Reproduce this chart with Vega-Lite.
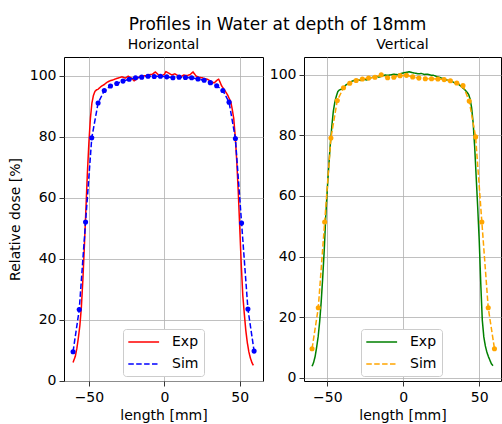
{
  "$schema": "https://vega.github.io/schema/vega-lite/v6.json",
  "padding": {"left": 7, "top": 15, "right": 0, "bottom": 0},
  "title": {"text": "Profiles in Water at depth of 18mm", "fontSize": 17, "fontWeight": "normal", "font": "DejaVu Sans", "color": "black", "anchor": "middle", "dx": 23, "offset": 4},
  "config": {
    "font": "DejaVu Sans",
    "view": {"stroke": "black", "strokeWidth": 1},
    "axis": {"grid": true, "gridColor": "#b0b0b0", "gridWidth": 0.8, "domain": false, "tickColor": "black", "tickSize": 5, "tickWidth": 0.8, "labelFontSize": 14, "labelColor": "black", "labelPadding": 3, "titleFontSize": 14, "titleFontWeight": "normal", "titleColor": "black", "titlePadding": 4},
    "axisX": {"labelPadding": 4},
    "title": {"fontSize": 14, "fontWeight": "normal", "color": "black", "offset": 5},
    "legend": {"fillColor": "white", "strokeColor": "#cccccc", "cornerRadius": 3, "padding": 5, "labelFontSize": 14, "labelColor": "black", "symbolType": "M-1.1,0H3.3", "symbolSize": 196, "symbolStrokeWidth": 1.5, "labelOffset": 28, "rowPadding": 7}
  },
  "bounds": "flush",
  "spacing": 41,
  "datasets": {
    "h": [
      {"s":"Exp","x":-60.5,"y":6.0},{"s":"Exp","x":-59,"y":8.0},{"s":"Exp","x":-58,"y":10.5},{"s":"Exp","x":-57,"y":14},{"s":"Exp","x":-56,"y":18},{"s":"Exp","x":-55,"y":24},{"s":"Exp","x":-54,"y":33},{"s":"Exp","x":-53,"y":44},{"s":"Exp","x":-52,"y":56},{"s":"Exp","x":-51,"y":68},{"s":"Exp","x":-50,"y":78},{"s":"Exp","x":-49,"y":86},{"s":"Exp","x":-48,"y":91},{"s":"Exp","x":-47,"y":93.5},{"s":"Exp","x":-46,"y":94.8},{"s":"Exp","x":-45,"y":95.3},{"s":"Exp","x":-44,"y":95.5},{"s":"Exp","x":-42,"y":96.4},{"s":"Exp","x":-40,"y":97.0},{"s":"Exp","x":-38,"y":97.8},{"s":"Exp","x":-36,"y":98.3},{"s":"Exp","x":-34,"y":98.6},{"s":"Exp","x":-32,"y":99.0},{"s":"Exp","x":-30,"y":99.3},{"s":"Exp","x":-28,"y":99.6},{"s":"Exp","x":-26,"y":99.2},{"s":"Exp","x":-24,"y":99.8},{"s":"Exp","x":-22,"y":99.3},{"s":"Exp","x":-20,"y":98.3},{"s":"Exp","x":-18,"y":99.0},{"s":"Exp","x":-16,"y":99.8},{"s":"Exp","x":-14,"y":99.9},{"s":"Exp","x":-12,"y":100.0},{"s":"Exp","x":-10,"y":100.3},{"s":"Exp","x":-8,"y":100.4},{"s":"Exp","x":-6,"y":101.2},{"s":"Exp","x":-4,"y":100.3},{"s":"Exp","x":-2,"y":99.9},{"s":"Exp","x":0,"y":100.4},{"s":"Exp","x":1,"y":101.3},{"s":"Exp","x":3,"y":100.8},{"s":"Exp","x":5,"y":100.2},{"s":"Exp","x":7,"y":100.6},{"s":"Exp","x":9,"y":100.0},{"s":"Exp","x":11,"y":99.7},{"s":"Exp","x":13,"y":100.2},{"s":"Exp","x":15,"y":100.0},{"s":"Exp","x":17,"y":100.3},{"s":"Exp","x":19,"y":101.2},{"s":"Exp","x":21,"y":99.9},{"s":"Exp","x":23,"y":99.4},{"s":"Exp","x":25,"y":99.3},{"s":"Exp","x":27,"y":99.0},{"s":"Exp","x":29,"y":98.7},{"s":"Exp","x":31,"y":98.0},{"s":"Exp","x":33,"y":97.6},{"s":"Exp","x":35,"y":98.5},{"s":"Exp","x":36,"y":98.8},{"s":"Exp","x":37,"y":97.8},{"s":"Exp","x":38,"y":96.6},{"s":"Exp","x":40,"y":95.2},{"s":"Exp","x":41,"y":94.4},{"s":"Exp","x":42,"y":93.6},{"s":"Exp","x":43,"y":92.5},{"s":"Exp","x":44,"y":91.5},{"s":"Exp","x":45,"y":89},{"s":"Exp","x":46,"y":86},{"s":"Exp","x":47,"y":80},{"s":"Exp","x":48,"y":72},{"s":"Exp","x":49,"y":62},{"s":"Exp","x":50,"y":50},{"s":"Exp","x":51,"y":38},{"s":"Exp","x":52,"y":28},{"s":"Exp","x":53,"y":22},{"s":"Exp","x":54,"y":16.5},{"s":"Exp","x":55,"y":12.5},{"s":"Exp","x":56,"y":9.5},{"s":"Exp","x":57,"y":7.5},{"s":"Exp","x":58,"y":6.0},{"s":"Exp","x":59,"y":5.0},
      {"s":"Sim","x":-60.5,"y":9.5},{"s":"Sim","x":-56.4,"y":23.3},{"s":"Sim","x":-52.2,"y":52.0},{"s":"Sim","x":-48.1,"y":79.6},{"s":"Sim","x":-43.9,"y":91.0},{"s":"Sim","x":-39.8,"y":95.1},{"s":"Sim","x":-35.7,"y":96.6},{"s":"Sim","x":-31.5,"y":97.4},{"s":"Sim","x":-27.4,"y":98.2},{"s":"Sim","x":-23.3,"y":98.8},{"s":"Sim","x":-19.1,"y":99.3},{"s":"Sim","x":-15.0,"y":99.5},{"s":"Sim","x":-10.8,"y":99.8},{"s":"Sim","x":-6.7,"y":99.7},{"s":"Sim","x":-2.6,"y":99.8},{"s":"Sim","x":1.6,"y":99.6},{"s":"Sim","x":5.7,"y":99.3},{"s":"Sim","x":9.8,"y":99.5},{"s":"Sim","x":14.0,"y":99.4},{"s":"Sim","x":18.1,"y":99.3},{"s":"Sim","x":22.3,"y":98.9},{"s":"Sim","x":26.4,"y":98.5},{"s":"Sim","x":30.5,"y":97.7},{"s":"Sim","x":34.7,"y":96.7},{"s":"Sim","x":38.8,"y":95.1},{"s":"Sim","x":42.9,"y":91.3},{"s":"Sim","x":47.1,"y":79.4},{"s":"Sim","x":51.2,"y":51.7},{"s":"Sim","x":55.4,"y":23.5},{"s":"Sim","x":59.5,"y":9.7}
    ],
    "v": [
      {"s":"Exp","x":-60,"y":3.8},{"s":"Exp","x":-59,"y":5},{"s":"Exp","x":-58,"y":7},{"s":"Exp","x":-57,"y":10},{"s":"Exp","x":-56,"y":13.5},{"s":"Exp","x":-55,"y":18.5},{"s":"Exp","x":-54,"y":25},{"s":"Exp","x":-53,"y":33},{"s":"Exp","x":-52,"y":42},{"s":"Exp","x":-51,"y":53},{"s":"Exp","x":-50,"y":62},{"s":"Exp","x":-49,"y":70},{"s":"Exp","x":-48,"y":77},{"s":"Exp","x":-47,"y":83},{"s":"Exp","x":-46,"y":88},{"s":"Exp","x":-45,"y":91},{"s":"Exp","x":-44,"y":93},{"s":"Exp","x":-43,"y":94.5},{"s":"Exp","x":-42,"y":95},{"s":"Exp","x":-40,"y":95.3},{"s":"Exp","x":-38,"y":96.5},{"s":"Exp","x":-36,"y":97.2},{"s":"Exp","x":-34,"y":97.8},{"s":"Exp","x":-32,"y":98.2},{"s":"Exp","x":-30,"y":98.4},{"s":"Exp","x":-28,"y":98.1},{"s":"Exp","x":-26,"y":98.5},{"s":"Exp","x":-24,"y":98.3},{"s":"Exp","x":-22,"y":98.9},{"s":"Exp","x":-20,"y":99.2},{"s":"Exp","x":-18,"y":99.5},{"s":"Exp","x":-16,"y":99.2},{"s":"Exp","x":-14,"y":99.6},{"s":"Exp","x":-12,"y":99.9},{"s":"Exp","x":-10,"y":99.8},{"s":"Exp","x":-8,"y":100.0},{"s":"Exp","x":-6,"y":100.2},{"s":"Exp","x":-4,"y":100.0},{"s":"Exp","x":-2,"y":100.3},{"s":"Exp","x":0,"y":100.6},{"s":"Exp","x":2,"y":100.8},{"s":"Exp","x":4,"y":101.0},{"s":"Exp","x":6,"y":100.7},{"s":"Exp","x":8,"y":100.5},{"s":"Exp","x":10,"y":100.3},{"s":"Exp","x":12,"y":100.4},{"s":"Exp","x":14,"y":100.1},{"s":"Exp","x":16,"y":100.2},{"s":"Exp","x":18,"y":99.9},{"s":"Exp","x":20,"y":99.8},{"s":"Exp","x":22,"y":99.4},{"s":"Exp","x":24,"y":99.1},{"s":"Exp","x":26,"y":98.8},{"s":"Exp","x":28,"y":98.4},{"s":"Exp","x":30,"y":98.0},{"s":"Exp","x":32,"y":97.8},{"s":"Exp","x":34,"y":97.3},{"s":"Exp","x":36,"y":97.0},{"s":"Exp","x":38,"y":96.2},{"s":"Exp","x":40,"y":95.3},{"s":"Exp","x":41,"y":94.8},{"s":"Exp","x":42,"y":94.2},{"s":"Exp","x":43,"y":93.5},{"s":"Exp","x":44,"y":92},{"s":"Exp","x":45,"y":89},{"s":"Exp","x":46,"y":84},{"s":"Exp","x":47,"y":76},{"s":"Exp","x":48,"y":66},{"s":"Exp","x":49,"y":56},{"s":"Exp","x":50,"y":45},{"s":"Exp","x":51,"y":31},{"s":"Exp","x":52,"y":19},{"s":"Exp","x":53,"y":13.5},{"s":"Exp","x":54,"y":10.5},{"s":"Exp","x":55,"y":8.5},{"s":"Exp","x":56,"y":7},{"s":"Exp","x":57,"y":5.8},{"s":"Exp","x":58,"y":4.6},{"s":"Exp","x":59,"y":4.0},
      {"s":"Sim","x":-60,"y":9.6},{"s":"Sim","x":-55.9,"y":23.1},{"s":"Sim","x":-51.7,"y":51.4},{"s":"Sim","x":-47.6,"y":79.1},{"s":"Sim","x":-43.4,"y":91.5},{"s":"Sim","x":-39.3,"y":95.7},{"s":"Sim","x":-35.2,"y":97.2},{"s":"Sim","x":-31.0,"y":98.1},{"s":"Sim","x":-26.9,"y":98.6},{"s":"Sim","x":-22.8,"y":98.9},{"s":"Sim","x":-18.6,"y":99.2},{"s":"Sim","x":-14.5,"y":100.0},{"s":"Sim","x":-10.3,"y":99.0},{"s":"Sim","x":-6.2,"y":99.2},{"s":"Sim","x":-2.1,"y":99.7},{"s":"Sim","x":2.1,"y":99.8},{"s":"Sim","x":6.2,"y":99.3},{"s":"Sim","x":10.3,"y":98.9},{"s":"Sim","x":14.5,"y":98.7},{"s":"Sim","x":18.6,"y":98.7},{"s":"Sim","x":22.8,"y":98.6},{"s":"Sim","x":26.9,"y":98.4},{"s":"Sim","x":31.0,"y":98.0},{"s":"Sim","x":35.2,"y":97.3},{"s":"Sim","x":39.3,"y":96.4},{"s":"Sim","x":43.4,"y":91.3},{"s":"Sim","x":47.6,"y":79.5},{"s":"Sim","x":51.7,"y":51.4},{"s":"Sim","x":55.9,"y":23.1},{"s":"Sim","x":60,"y":9.6}
    ]
  },
  "hconcat": [
    {
      "width": 199, "height": 324,
      "title": "Horizontal",
      "data": {"name": "h"},
      "layer": [
        {
          "mark": {"type": "line", "strokeWidth": 1.5, "clip": true},
          "encoding": {
            "x": {"field": "x", "type": "quantitative", "scale": {"domain": [-66.5, 65.4], "nice": false, "zero": false}, "axis": {"values": [-50, 0, 50], "title": "length [mm]"}},
            "y": {"field": "y", "type": "quantitative", "scale": {"domain": [-0.1, 106.1], "nice": false, "zero": false}, "axis": {"values": [0, 20, 40, 60, 80, 100], "title": "Relative dose [%]", "titlePadding": 7}},
            "color": {"field": "s", "type": "nominal", "scale": {"domain": ["Exp", "Sim"], "range": ["#ff0000", "#0000ff"]}, "legend": {"title": null, "orient": "none", "legendX": 59, "legendY": 272}},
            "strokeDash": {"field": "s", "type": "nominal", "scale": {"domain": ["Exp", "Sim"], "range": [[1, 0], [5.5, 2.4]]}, "legend": {"title": null, "orient": "none", "legendX": 59, "legendY": 272}}
          }
        },
        {
          "transform": [{"filter": "datum.s === 'Sim'"}],
          "mark": {"type": "point", "filled": true, "size": 26, "opacity": 1, "color": "#0000ff"},
          "encoding": {
            "x": {"field": "x", "type": "quantitative"},
            "y": {"field": "y", "type": "quantitative"}
          }
        }
      ]
    },
    {
      "width": 197, "height": 324,
      "title": "Vertical",
      "data": {"name": "v"},
      "layer": [
        {
          "mark": {"type": "line", "strokeWidth": 1.5, "clip": true},
          "encoding": {
            "x": {"field": "x", "type": "quantitative", "scale": {"domain": [-65.3, 64.3], "nice": false, "zero": false}, "axis": {"values": [-50, 0, 50], "title": "length [mm]"}},
            "y": {"field": "y", "type": "quantitative", "scale": {"domain": [-1.06, 105.86], "nice": false, "zero": false}, "axis": {"values": [0, 20, 40, 60, 80, 100], "title": null}},
            "color": {"field": "s", "type": "nominal", "scale": {"domain": ["Exp", "Sim"], "range": ["#008000", "#ffa500"]}, "legend": {"title": null, "orient": "none", "legendX": 57, "legendY": 272}},
            "strokeDash": {"field": "s", "type": "nominal", "scale": {"domain": ["Exp", "Sim"], "range": [[1, 0], [5.5, 2.4]]}, "legend": {"title": null, "orient": "none", "legendX": 57, "legendY": 272}}
          }
        },
        {
          "transform": [{"filter": "datum.s === 'Sim'"}],
          "mark": {"type": "point", "filled": true, "size": 26, "opacity": 1, "color": "#ffa500"},
          "encoding": {
            "x": {"field": "x", "type": "quantitative"},
            "y": {"field": "y", "type": "quantitative"}
          }
        }
      ]
    }
  ],
  "resolve": {"scale": {"x": "independent", "y": "independent", "color": "independent", "strokeDash": "independent"}, "legend": {"color": "independent", "strokeDash": "independent"}}
}
